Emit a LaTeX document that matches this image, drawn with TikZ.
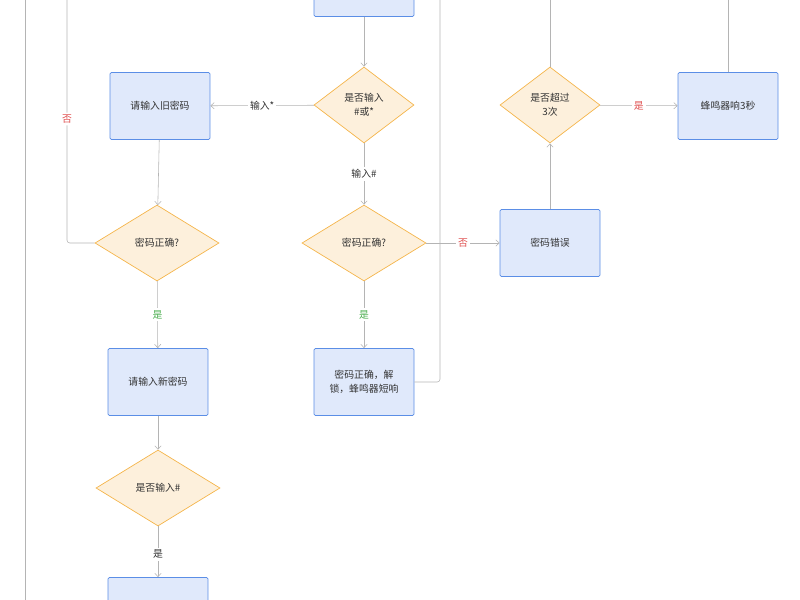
\documentclass[tikz,border=0pt]{standalone}
\usepackage{fontspec}
\setmainfont{Noto Sans CJK SC}
\usetikzlibrary{shapes.geometric,arrows.meta}
\definecolor{boxfill}{HTML}{E0E9FB}
\definecolor{boxline}{HTML}{5B8EE6}
\definecolor{decfill}{HTML}{FDF0DC}
\definecolor{decline}{HTML}{F5B54B}
\definecolor{wirecol}{HTML}{B4B4B4}
\definecolor{nored}{HTML}{E05050}
\definecolor{yesgreen}{HTML}{4CAF50}
\begin{document}
\begin{tikzpicture}[x=0.05cm,y=-0.05cm,font=\fontsize{14}{20}\selectfont,
  proc/.style={draw=boxline,fill=boxfill,line width=1pt,rounded corners=2pt,minimum width=5cm,minimum height=3.35cm,align=center,text=black!80},
  decide/.style={diamond,draw=decline,fill=decfill,line width=1pt,inner sep=0pt,minimum width=#1,minimum height=3.8cm},
  decide/.default=6.2cm,
  flow/.style={draw=wirecol,line width=0.8pt,-{Straight Barb[length=5pt,width=9pt]}},
  plain/.style={draw=wirecol,line width=0.8pt,rounded corners=4pt},
  lbl/.style={fill=white,inner sep=3pt,text=black!80},
  lblno/.style={lbl,text=nored},
  lblyes/.style={lbl,text=yesgreen}]
\useasboundingbox (0,0) rectangle (800,600);
% boxes
\node[proc] (top) at (364,-17) {};
\node[proc] (oldpw) at (160,106) {请输入旧密码};
\node[proc] (newpw) at (158,382) {请输入新密码};
\node[proc] (unlock) at (364,382) {密码正确，解\\锁，蜂鸣器短响};
\node[proc] (wrong) at (550,243) {密码错误};
\node[proc] (beep) at (728,106) {蜂鸣器响3秒};
\node[proc] (save) at (158,611) {};
% decisions
\node[decide=5cm,label={[align=center,text=black!80]center:是否输入\\\#或*}] (key) at (364,105) {};
\node[decide,label={[text=black!80]center:密码正确?}] (chkold) at (157,243) {};
\node[decide,label={[text=black!80]center:密码正确?}] (chk) at (364,243) {};
\node[decide=5cm,label={[align=center,text=black!80]center:是否超过\\3次}] (three) at (550,105) {};
\node[decide,label={[text=black!80]center:是否输入\#}] (hash) at (158,488) {};
% connectors
\draw[flow] (top) -- (key);
\draw[flow] (key) -- node[lbl]{输入*} (oldpw);
\draw[flow] (key) -- node[lbl]{输入\#} (chk);
\draw[flow] (oldpw) -- (chkold);
\draw[flow] (chkold) -- node[lblyes]{是} (newpw);
\draw[flow] (newpw) -- (hash);
\draw[flow] (hash) -- node[lbl,pos=0.55]{是} (save);
\draw[flow] (chk) -- node[lblno]{否} (wrong);
\draw[flow] (chk) -- node[lblyes]{是} (unlock);
\draw[flow] (wrong) -- (three);
\draw[flow] (three) -- node[lblno]{是} (beep);
\coordinate (up1) at (67,-5);
\coordinate (up2) at (440,-5);
\coordinate (up3) at (550,-5);
\coordinate (up4) at (728,-5);
\draw[plain] (chkold.west) -| node[lblno,pos=0.75]{否} (up1);
\draw[plain] (unlock.east) -| (up2);
\draw[plain] (three.north) -- (up3);
\draw[plain] (beep.north) -- (up4);
\coordinate (railtop) at (25,-5);
\coordinate (railbot) at (25,605);
\draw[plain] (railtop) -- (railbot);
\end{tikzpicture}
\end{document}
